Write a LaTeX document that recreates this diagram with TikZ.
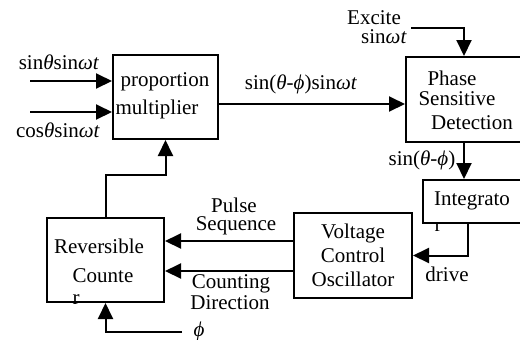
\documentclass[tikz,border=0pt]{standalone}
\usepackage{fontspec}
\setmainfont{Liberation Serif}
\usetikzlibrary{arrows.meta}
\newcommand{\thv}{\textit{θ}}
\newcommand{\phv}{\textit{ϕ}}
\newcommand{\omt}{\textit{ωt}}

\begin{document}
\begin{tikzpicture}[x=0.5pt, y=-0.5pt, line width=1pt,
    >={Triangle[length=8pt, width=7.5pt]},
    blk/.style={draw, line width=1pt, inner sep=0pt},
    txt/.style={inner sep=0pt, font=\fontsize{10.5}{12}\selectfont}]
    \useasboundingbox (0,0) rectangle (520,339);

    % blocks
    \node[blk, minimum width=52.5pt, minimum height=42pt] (mult) at (165.5,97) {};
    \node[blk, minimum width=58pt, minimum height=42.5pt] (psd) at (464,99.5) {};
    \node[blk, minimum width=49.5pt, minimum height=21.5pt] (integ) at (472.5,201.5) {};
    \node[blk, txt, align=center, minimum width=59pt, minimum height=42.5pt] (vco) at (353,255.5)
        {Voltage\\Control\\Oscillator};
    \node[blk, minimum width=58.5pt, minimum height=42pt] (cnt) at (105.5,260) {};

    % texts in the blocks
    \node[txt] (multa) at (165,82) {proportion};
    \node[txt] (multb) at (157,109) {multiplier};
    \node[txt] (psda) at (452,78) {Phase};
    \node[txt] (psdb) at (457,99) {Sensitive};
    \node[txt] (psdc) at (472,123) {Detection};
    \node[txt] (intga) at (472,201) {Integrato};
    \begin{scope}
        \clip (425,224) rectangle (455,231);
        \node[txt] (intgb) at (438,227) {r};
    \end{scope}
    \node[txt] (cnta) at (99,246) {Reversible};
    \node[txt] (cntb) at (103,276) {Counte};
    \node[txt] (cntc) at (76,300) {r};

    % signal labels
    \node[txt] (sinin) at (59,62) {sin\thv sin\omt};
    \node[txt] (cosin) at (58,130) {cos\thv sin\omt};
    \node[txt] (outlbl) at (301,84) {sin(\thv-\phv)sin\omt};
    \node[txt] (exca) at (374,18) {Excite};
    \node[txt] (excb) at (384,37) {sin\omt};
    \node[txt] (diflbl) at (422,160) {sin(\thv-\phv)};
    \node[txt] (drv) at (447,274) {drive};
    \node[txt] (pulsa) at (234,205) {Pulse};
    \node[txt] (pulsb) at (236,226) {Sequence};
    \node[txt] (cdira) at (231,284) {Counting};
    \node[txt] (cdirb) at (230,303) {Direction};
    \node[txt] (phi) at (199,331) {\phv};

    % connectors
    \coordinate (in1) at (30,81);
    \coordinate (in2) at (30,112);
    \coordinate (mo) at (218,104);
    \coordinate (ex) at (411,28);
    \coordinate (phin) at (182,332);

    \draw[->] (in1) -- (in1 -| mult.west);
    \draw[->] (in2) -- (in2 -| mult.west);
    \draw[->] (mo) -- (mo -| psd.west);
    \draw[->] (ex) -| (psd.north);
    \draw[->] (psd.south) -- (psd.south |- integ.north);
    \draw[->] ([xshift=-2.25pt]integ.south) |- (vco.east);
    \draw[->] ([yshift=7.25pt]vco.west) -- ([yshift=7.25pt]vco.west -| cnt.east);
    \draw[->] ([yshift=-7.75pt]vco.west) -- ([yshift=-7.75pt]vco.west -| cnt.east);
    \draw[->] (cnt.north) -- ++(0,-42) -| (mult.south);
    \draw[->] (phin) -| (cnt.south);
\end{tikzpicture}
\end{document}
